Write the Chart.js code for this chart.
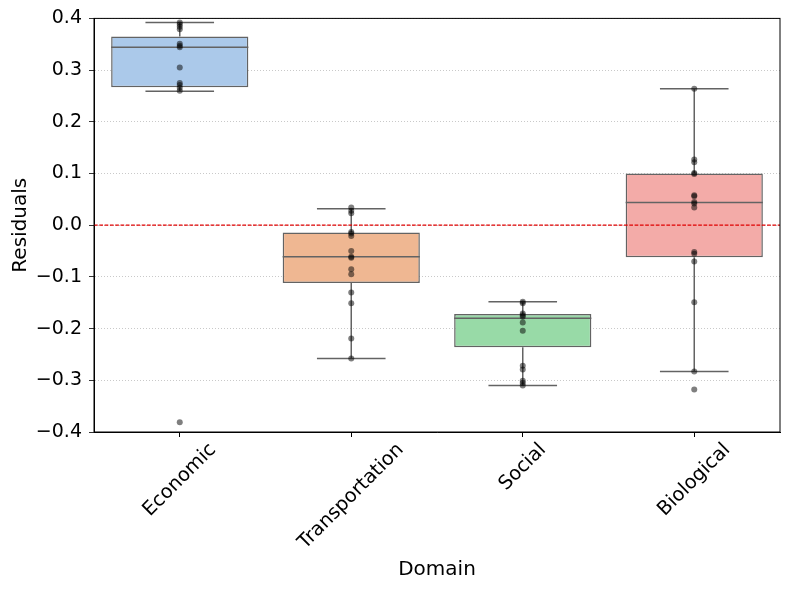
<!DOCTYPE html>
<html>
<head>
<meta charset="utf-8">
<script src="https://cdn.jsdelivr.net/npm/chart.js@4"></script>
<style>
    body { margin: 0; background: #fff; }
</style>
</head>
<body>
<canvas id="residualChart" width="790" height="590"></canvas>
<script>
const categories = ['Economic', 'Transportation', 'Social', 'Biological'];

// box statistics
const q1 = [0.267, -0.112, -0.236, -0.062];
const q3 = [0.365, -0.014, -0.172, 0.100];
const medians = [0.344, -0.061, -0.180, 0.044];
const whiskerLow = [0.259, -0.258, -0.310, -0.283];
const whiskerHigh = [0.392, 0.032, -0.148, 0.264];

// individual residuals per domain
const economic = [0.392, 0.388, 0.384, 0.379, 0.351, 0.347, 0.344, 0.305, 0.275, 0.271, 0.266, 0.260, -0.381];
const transportation = [0.034, 0.028, 0.023, -0.013, -0.016, -0.021, -0.050, -0.061, -0.063, -0.085, -0.095, -0.130, -0.151, -0.219, -0.258];
const social = [-0.148, -0.151, -0.171, -0.174, -0.177, -0.188, -0.204, -0.272, -0.279, -0.301, -0.305, -0.310];
const biological = [0.264, 0.127, 0.122, 0.101, 0.099, 0.058, 0.056, 0.045, 0.042, 0.034, -0.052, -0.055, -0.070, -0.149, -0.283, -0.318];

const yTicks = [-0.4, -0.3, -0.2, -0.1, 0.0, 0.1, 0.2, 0.3, 0.4];

const boxColors = ['#abc9ea', '#efb792', '#98daa7', '#f3aba8'];
const edgeColor = '#636363';

Chart.defaults.font.family = '"DejaVu Sans", sans-serif';
Chart.defaults.color = '#000';

const points = [];
[economic, transportation, social, biological].forEach((vals, i) => {
    vals.forEach(v => points.push({ x: categories[i], y: v }));
});

function line(ctx, x1, y1, x2, y2) {
    ctx.beginPath();
    ctx.moveTo(x1, y1);
    ctx.lineTo(x2, y2);
    ctx.stroke();
}

const boxExtras = {
    id: 'boxExtras',
    afterDatasetDraw(chart, args) {
        if (args.meta.type !== 'bar') return;
        const { ctx, chartArea, scales: { x, y } } = chart;
        const half = x.width / categories.length * 0.8 / 2;

        ctx.save();
        ctx.strokeStyle = edgeColor;
        ctx.lineWidth = 1.5;
        categories.forEach((c, i) => {
            const cx = x.getPixelForValue(i);
            line(ctx, cx, y.getPixelForValue(q3[i]), cx, y.getPixelForValue(whiskerHigh[i]));
            line(ctx, cx, y.getPixelForValue(q1[i]), cx, y.getPixelForValue(whiskerLow[i]));
            line(ctx, cx - half / 2, y.getPixelForValue(whiskerHigh[i]), cx + half / 2, y.getPixelForValue(whiskerHigh[i]));
            line(ctx, cx - half / 2, y.getPixelForValue(whiskerLow[i]), cx + half / 2, y.getPixelForValue(whiskerLow[i]));
            line(ctx, cx - half, y.getPixelForValue(medians[i]), cx + half, y.getPixelForValue(medians[i]));
        });

        // zero reference
        const y0 = y.getPixelForValue(0);
        ctx.strokeStyle = '#e00000';
        ctx.lineWidth = 1.2;
        ctx.setLineDash([3.7, 1.6]);
        line(ctx, chartArea.left, y0, chartArea.right, y0);
        ctx.restore();
    },
    afterDraw(chart) {
        const { ctx, chartArea, scales: { x } } = chart;
        ctx.save();
        ctx.strokeStyle = '#000';
        ctx.lineWidth = 1;
        ctx.strokeRect(chartArea.left, chartArea.top, chartArea.right - chartArea.left, chartArea.bottom - chartArea.top);

        // rotated category labels, centred under the tick like matplotlib
        ctx.font = '19.4px "DejaVu Sans"';
        ctx.fillStyle = '#000';
        ctx.textAlign = 'center';
        ctx.textBaseline = 'middle';
        const top = chartArea.bottom + 8.5;
        categories.forEach((c, i) => {
            const w = ctx.measureText(c).width;
            const cx = x.getPixelForValue(i);
            const cy = top + (w + 18) * 0.3536;
            ctx.save();
            ctx.translate(cx, cy);
            ctx.rotate(-Math.PI / 4);
            ctx.fillText(c, 0, 0);
            ctx.restore();
        });
        ctx.restore();
    }
};

new Chart(document.getElementById('residualChart'), {
    type: 'bar',
    data: {
        labels: categories,
        datasets: [{
            type: 'bar',
            order: 2,
            data: q1.map((v, i) => [v, q3[i]]),
            backgroundColor: boxColors,
            borderColor: edgeColor,
            borderWidth: 1.5,
            borderSkipped: false,
            categoryPercentage: 0.8,
            barPercentage: 1
        }, {
            type: 'line',
            order: 1,
            data: points,
            showLine: false,
            pointRadius: 3,
            pointBackgroundColor: 'rgba(0,0,0,0.5)',
            pointBorderWidth: 0
        }]
    },
    options: {
        responsive: false,
        animation: false,
        layout: { padding: { top: 18, right: 10, left: 0, bottom: 0 } },
        plugins: {
            legend: { display: false },
            tooltip: { enabled: false }
        },
        scales: {
            x: {
                type: 'category',
                offset: true,
                grid: { drawOnChartArea: false, offset: false, tickLength: 5, tickColor: '#000' },
                border: { color: '#000' },
                ticks: { display: false },
                title: { display: true, text: 'Domain', font: { size: 20 }, padding: { top: 0, bottom: 8 } },
                afterFit: s => { s.height = 158; }
            },
            y: {
                min: -0.4,
                max: 0.4,
                afterBuildTicks: s => { s.ticks = yTicks.map(v => ({ value: v })); },
                ticks: {
                    font: { size: 19 },
                    padding: 7,
                    callback: v => (Math.abs(v) < 1e-9 ? '0.0' : (v < 0 ? '\u2212' + Math.abs(v).toFixed(1) : v.toFixed(1)))
                },
                grid: { color: 'rgba(170,170,170,0.8)', lineWidth: 0.8, tickLength: 5, tickColor: '#000', tickBorderDash: [] },
                border: { color: '#000', dash: [1, 2] },
                title: { display: true, text: 'Residuals', font: { size: 20 }, padding: { top: 9, bottom: 0 } },
                afterFit: s => { s.width = 94; }
            }
        }
    },
    plugins: [boxExtras]
});
</script>
</body>
</html>
